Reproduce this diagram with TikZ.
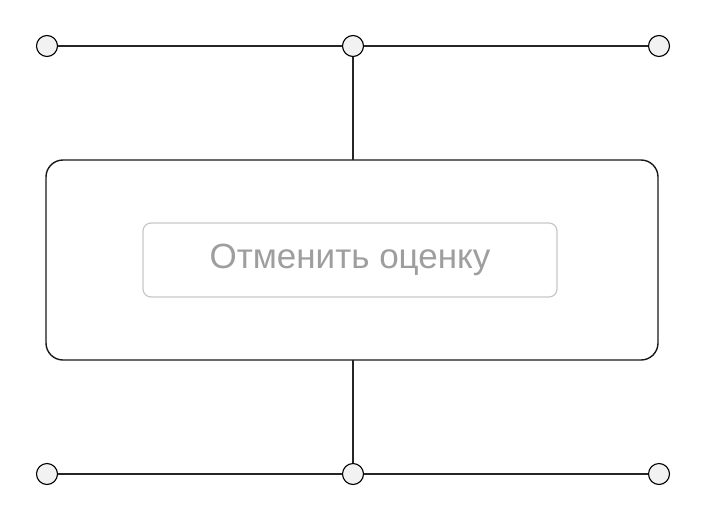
\documentclass[tikz,border=0pt]{standalone}
\usepackage{fontspec}
\setmainfont{Liberation Sans}
\begin{document}
\begin{tikzpicture}[x=1pt,y=-1pt,
  dot/.style={circle,draw=black,fill=black!5,line width=1.1pt,minimum size=21pt,inner sep=0pt},
  wire/.style={draw=black!85,line width=1.1pt},
  frame/.style={draw=black!90,line width=1.4pt,rounded corners=17pt},
  btn/.style={draw=black!22,line width=1.2pt,rounded corners=8pt,text=black!38,font=\fontsize{35}{40}\selectfont}]
\useasboundingbox (0,0) rectangle (706,522);
\node[dot] (tl) at (47,46) {};
\node[dot] (tm) at (353,46) {};
\node[dot] (tr) at (659,46) {};
\node[dot] (bl) at (47,474) {};
\node[dot] (bm) at (353,474) {};
\node[dot] (br) at (659,474) {};
\draw[frame] (46,160) rectangle (658,360);
\coordinate (ft) at (353,160);
\coordinate (fb) at (353,360);
\node[btn,minimum width=414pt,minimum height=74pt] (b) at (350,260) {Отменить оценку};
\draw[wire] (tl) -- (tm);
\draw[wire] (tm) -- (tr);
\draw[wire] (bl) -- (bm);
\draw[wire] (bm) -- (br);
\draw[wire] (tm) -- (ft);
\draw[wire] (fb) -- (bm);
\end{tikzpicture}
\end{document}
